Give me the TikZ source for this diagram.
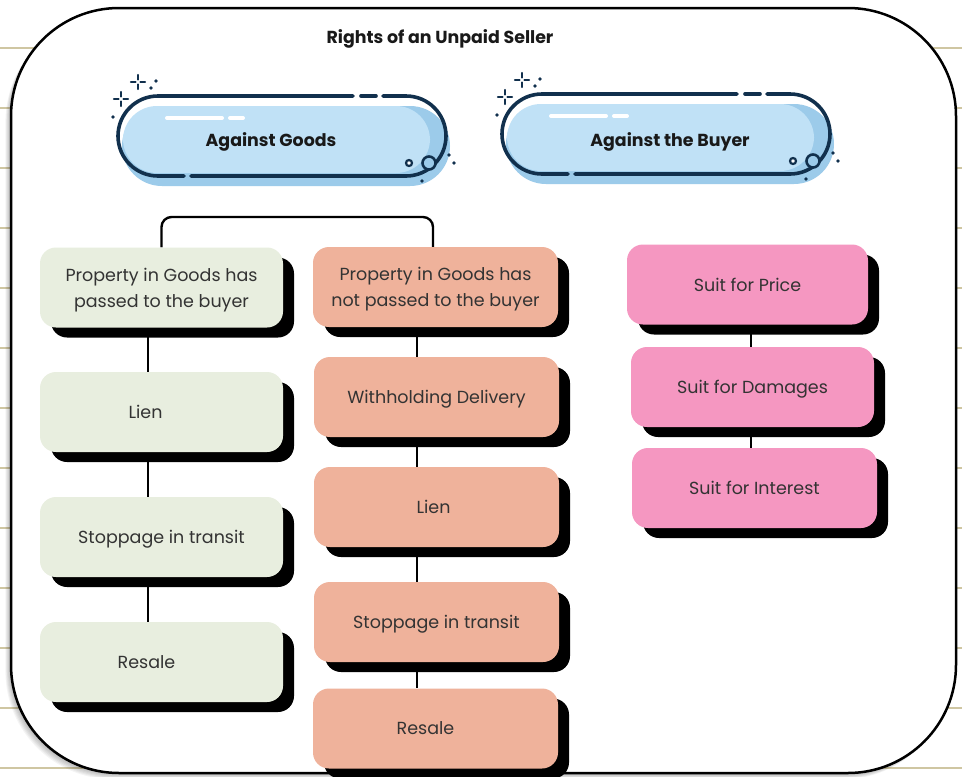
\documentclass[tikz,border=0pt]{standalone}
\usepackage{fontspec}
\setmainfont{Poppins}
\usetikzlibrary{shadows}

\definecolor{ruleline}{HTML}{CFC6A2}
\definecolor{greenbox}{HTML}{E8EEDF}
\definecolor{salmonbox}{HTML}{EFB29B}
\definecolor{pinkbox}{HTML}{F597C1}
\definecolor{pilllight}{HTML}{C0E1F6}
\definecolor{pilldark}{HTML}{9CCBEA}
\definecolor{navy}{HTML}{11304D}
\definecolor{txt}{HTML}{333333}

\pgfdeclarelayer{back}
\pgfdeclarelayer{links}
\pgfsetlayers{back,links,main}

% one stadium-shaped heading badge, drawn in local coordinates
\newcommand{\badge}[1]{%
  \begin{scope}[shift={#1}]
    \fill[pilldark, rounded corners=40] (4,10) rectangle (332,90);
    \fill[pilllight, rounded corners=34] (5,10) rectangle (312,77);
    \draw[pillline] (265,0) -- (288,0) arc(-90:90:40) -- (73,80);
    \draw[pillline] (66,80) -- (40,80) arc(90:270:40) -- (235,0);
    \draw[pillline] (243,0) -- (258,0);
    \draw[white, line width=4, line cap=round] (49,22) -- (104,22) (112,22) -- (125,22);
    \draw[navy, line width=2.6, fill=pilldark] (311,67) circle (6.5);
    \draw[navy, line width=2.2, fill=white] (291,67) circle (3);
    \fill[navy] (331,59) circle (1.8) (336,67) circle (1.8) (304,85) circle (1.8);
    \foreach \c in {(20,-14),(3,3)} {
      \draw[navy, line width=2.4, line cap=round]
        \c ++(-7,0) -- ++(4.5,0) \c ++(2.5,0) -- ++(4.5,0)
        \c ++(0,-7) -- ++(0,4.5) \c ++(0,2.5) -- ++(0,4.5);
    }
    \fill[navy] (33,-8) circle (1.8) (38,-15) circle (1.8) (-5,21) circle (1.8);
  \end{scope}}

\begin{document}
\begin{tikzpicture}[x=1pt, y=-1pt,
  pillline/.style={navy, line width=3.6, line cap=round},
  box/.style={rounded corners=16, minimum width=243, minimum height=80,
    inner sep=0, align=center, text=txt, text depth=0pt,
    font=\fontsize{17.5}{26}\selectfont,
    drop shadow={shadow xshift=11pt, shadow yshift=-10pt, fill=black, opacity=1}},
  goodsbox/.style={box, fill=greenbox},
  notbox/.style={box, fill=salmonbox, minimum width=245},
  buyerbox/.style={box, fill=pinkbox},
  lbl/.style={text=txt, font=\fontsize{17.5}{26}\selectfont, inner sep=0, text depth=0pt},
  head/.style={font=\bfseries\fontsize{17.4}{20}\selectfont, text=black!90, text depth=0pt},
  link/.style={black, line width=2.4}]

\useasboundingbox (0,0) rectangle (962,777);

\begin{pgfonlayer}{back}
  \fill[white] (0,0) rectangle (962,777);
  \foreach \yy in {48,108,...,768}
    \draw[ruleline, line width=1.3] (0,\yy) -- (962,\yy);
  % soft shadow of the card
  \foreach \i in {1,...,7}
    \fill[black, opacity=0.045, rounded corners=108]
      (11-0.8*\i,8+0.9*\i) rectangle (956-0.8*\i,773+0.9*\i);
  \draw[black, line width=2.5, fill=white, rounded corners=108] (11,8) rectangle (956,773);
\end{pgfonlayer}

\node[head] (title) at (440,37) {Rights of an Unpaid Seller};

\badge{(118,96)}
\badge{(502,94)}
\node[head] (goods) at (271,140) {Against Goods};
\node[head] (buyer) at (670,140) {Against the Buyer};

% property passed
\node[goodsbox] (g1) at (161.5,287.5) {Property in Goods has\\passed to the buyer};
\node[goodsbox] (g2) at (161.5,412) {};
\node[goodsbox] (g3) at (161.5,537) {Stoppage in transit};
\node[goodsbox] (g4) at (161.5,662) {};
\node[lbl] at ([xshift=-16]g2.center) {Lien};
\node[lbl] at ([xshift=-15]g4.center) {Resale};

% property not passed
\node[notbox] (s1) at (435.5,287) {Property in Goods has\\not passed to the buyer};
\node[notbox] (s2) at (436.5,397) {Withholding Delivery};
\node[notbox] (s3) at (436.5,507) {};
\node[notbox] (s4) at (436.5,622) {Stoppage in transit};
\node[notbox] (s5) at (435.5,728.5) {};
\node[lbl] at ([xshift=-3]s3.center) {Lien};
\node[lbl] at ([xshift=-10]s5.center) {Resale};

% remedies against the buyer
\node[buyerbox, minimum width=241] (p1) at (747.5,284.5) {Suit for Price};
\node[buyerbox] (p2) at (752.5,387) {Suit for Damages};
\node[buyerbox, minimum width=245] (p3) at (754.5,488) {Suit for Interest};

\begin{pgfonlayer}{links}
  \coordinate (brk) at (300,217);
  \draw[link, rounded corners=10] (g1.north) |- (brk) -| ([xshift=-2.5]s1.north);
  \foreach \a/\b in {g1/g2,g2/g3,g3/g4}
    \draw[link] ([xshift=-13.5]\a.south) -- ([xshift=-13.5]\b.north);
  \draw[link] ([xshift=-18.5]s1.south) -- ([xshift=-19.5]s2.north);
  \foreach \a/\b in {s2/s3,s3/s4}
    \draw[link] ([xshift=-19.5]\a.south) -- ([xshift=-19.5]\b.north);
  \draw[link] ([xshift=-19.5]s4.south) -- ([xshift=-18.5]s5.north);
  \draw[link] ([xshift=3.5]p1.south) -- ([xshift=-1.5]p2.north);
  \draw[link] ([xshift=-1.5]p2.south) -- ([xshift=-3.5]p3.north);
\end{pgfonlayer}
\end{tikzpicture}
\end{document}
